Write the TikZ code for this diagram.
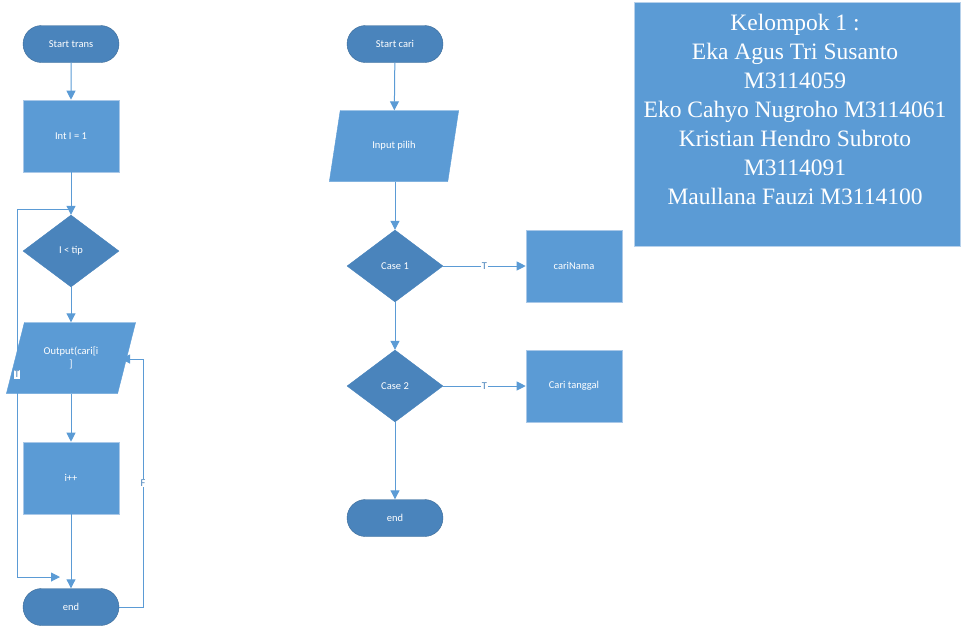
\documentclass[tikz,border=0pt]{standalone}
\usepackage{fontspec}
\setmainfont{Liberation Serif}
\newfontfamily\smallfont{Carlito}
\usetikzlibrary{shapes.geometric,shapes.misc,arrows.meta}
\definecolor{boxblue}{HTML}{5B9BD5}
\definecolor{darkblue}{HTML}{4A84BC}
\definecolor{edgeblue}{HTML}{6FA4D8}
\definecolor{linecol}{HTML}{5B9BD5}
\definecolor{labcol}{HTML}{4A84BC}
\tikzset{
  lbl/.style={font=\smallfont\fontsize{10.5}{12.5}\selectfont, text=white, align=center},
  termbox/.style={lbl, rounded rectangle, fill=darkblue, draw=darkblue!80!black, line width=0.4pt, minimum width=96pt, minimum height=37pt, inner sep=0pt},
  procbox/.style={lbl, rectangle, fill=boxblue, draw=edgeblue!60!white, line width=0.6pt, minimum width=96pt, minimum height=72pt, inner sep=0pt},
  decbox/.style={lbl, diamond, fill=darkblue, draw=darkblue, minimum width=96pt, minimum height=72pt, inner sep=0pt, aspect=1.33},
  iobox/.style={lbl, trapezium, trapezium left angle=64, trapezium right angle=116, trapezium stretches=true, fill=boxblue, draw=boxblue, minimum width=130pt, minimum height=71pt, inner sep=0pt},
  conn/.style={draw=linecol, line width=1pt, -{Triangle[length=9pt,width=9pt]}},
  plain/.style={draw=linecol, line width=1pt},
  elbl/.style={font=\smallfont\fontsize{10.5}{11}\selectfont, text=labcol, fill=white, inner sep=0.8pt},
}
\begin{document}
\begin{tikzpicture}[x=1pt,y=-1pt]
\useasboundingbox (0,0) rectangle (965,633);
% left column
\node[termbox] (st) at (71,44) {Start trans};
\node[procbox] (init) at (71,136) {Int I = 1};
\node[decbox] (cond) at (71,251) {I < tip};
\node[iobox] (out) at (71,358) {Output(cari[i\\]};
\node[procbox] (inc) at (71,478) {i++};
\node[termbox] (e1) at (71,607) {end};
\coordinate (j1) at (17,209);
\coordinate (j2) at (17,577);
\coordinate (j3) at (60,577);
\coordinate (f1) at (143,607);
\coordinate (f2) at (143,359);
\coordinate (f3) at (121,359);
\draw[conn] (st) -- (init);
\draw[conn] (init) -- (cond);
\draw[conn] (cond) -- (out);
\draw[conn] (out.south -| inc) -- (inc);
\draw[conn] (inc) -- (e1);
\draw[plain] (j1) -- (cond.north |- j1);
\draw[conn] (j1) -- node[elbl, pos=0.45]{T} (j2) -- (j3);
\draw[conn] (e1.east) -- (f1) -- node[elbl, pos=0.5]{F} (f2) -- (f3);
% right column
\node[termbox] (sc) at (395,44) {Start cari};
\node[iobox] (inp) at (394,146) {Input pilih};
\node[decbox] (c1) at (395,266) {Case 1};
\node[procbox] (nama) at (574,266) {cariNama};
\node[decbox] (c2) at (395,386) {Case 2};
\node[procbox] (tgl) at (574,386) {Cari tanggal};
\node[termbox] (e2) at (395,518) {end};
\draw[conn] (sc) -- (inp);
\draw[conn] (inp.south -| c1) -- (c1);
\draw[conn] (c1) -- node[elbl, pos=0.5]{T} (nama);
\draw[conn] (c1) -- (c2);
\draw[conn] (c2) -- node[elbl, pos=0.5]{T} (tgl);
\draw[conn] (c2) -- (e2);
% info box
\node[rectangle, fill=boxblue, draw=edgeblue!50!white, line width=0.8pt, minimum width=326pt, minimum height=244pt, anchor=north west, inner sep=0pt] (info) at (634,2) {};
\node[anchor=north, text=white, align=center, font=\fontsize{23.5}{29}\selectfont] (infotext) at (795,10.5) {Kelompok 1 :\\Eka Agus Tri Susanto\\M3114059\\Eko Cahyo Nugroho M3114061\\Kristian Hendro Subroto\\M3114091\\Maullana Fauzi M3114100};
\end{tikzpicture}
\end{document}
